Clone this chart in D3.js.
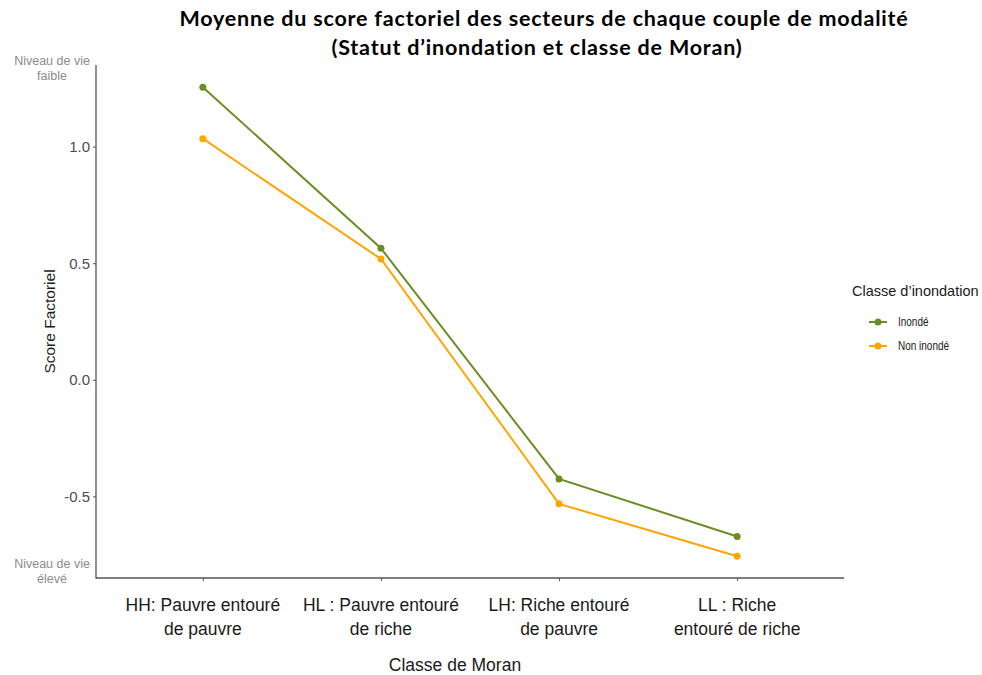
<!DOCTYPE html>
<html>
<head>
<meta charset="utf-8">
<script src="https://cdn.jsdelivr.net/npm/d3@7"></script>
<style>
  body { margin: 0; background: #fff; }
  svg { display: block; }
</style>
</head>
<body>
<svg id="chart" width="982" height="675"></svg>
<script>
// Moran classes (x categories), each label split over two lines
const categories = ["HH", "HL", "LH", "LL"];
const categoryLabels = [
  ["HH: Pauvre entouré", "de pauvre"],
  ["HL : Pauvre entouré", "de riche"],
  ["LH: Riche entouré", "de pauvre"],
  ["LL : Riche", "entouré de riche"]
];

// Mean factor score per flood status
const seriesNames = ["Inondé", "Non inondé"];
const inondeValues = [1.255, 0.564, -0.425, -0.672];
const nonInondeValues = [1.034, 0.518, -0.532, -0.757];
const seriesColors = ["#6b8e23", "#ffa500"];

const yTicks = [-0.5, 0.0, 0.5, 1.0];
const yDomain = [-0.85, 1.35];

const series = [
  { name: seriesNames[0], values: inondeValues, color: seriesColors[0] },
  { name: seriesNames[1], values: nonInondeValues, color: seriesColors[1] }
];

const svg = d3.select("#chart");
const plot = { left: 96, right: 844, top: 65, bottom: 578 };

const x = d3.scalePoint()
  .domain(categories)
  .range([plot.left, plot.right])
  .padding(0.6);

const y = d3.scaleLinear()
  .domain(yDomain)
  .range([plot.bottom, plot.top]);

const tickTextColor = "#4d4d4d";
const font = "'Liberation Sans', Arial, sans-serif";
// plain hyphen for negative values
const fmt = d => d3.format(".1f")(d).replace("−", "-");

// Y axis
const yAxis = svg.append("g")
  .attr("transform", `translate(${plot.left},0)`)
  .call(d3.axisLeft(y).tickValues(yTicks).tickFormat(fmt).tickSize(3).tickPadding(3));
yAxis.select(".domain").attr("d", `M0,${plot.top}V${plot.bottom + 0.5}`).attr("stroke", "#555").attr("stroke-width", 1.3);
yAxis.selectAll(".tick line").attr("stroke", "#555");
yAxis.selectAll(".tick text")
  .attr("fill", tickTextColor)
  .style("font-family", font)
  .style("font-size", "15px");

// X axis
const xAxis = svg.append("g")
  .attr("transform", `translate(0,${plot.bottom})`)
  .call(d3.axisBottom(x).tickSize(3).tickFormat(""));
xAxis.select(".domain").attr("d", `M${plot.left},0H${plot.right}`).attr("stroke", "#555").attr("stroke-width", 1.3);
xAxis.selectAll(".tick line").attr("stroke", "#555");

// Two-line category labels
const xl = svg.append("g");
categories.forEach((c, i) => {
  const t = xl.append("text")
    .attr("x", x(c))
    .attr("y", 611)
    .attr("text-anchor", "middle")
    .attr("fill", "#1a1a1a")
    .style("font-family", font)
    .style("font-size", "17.5px");
  categoryLabels[i].forEach((line, j) => {
    t.append("tspan").attr("x", x(c)).attr("dy", j === 0 ? 0 : 24).text(line);
  });
});

// Axis titles
svg.append("text")
  .attr("x", 455).attr("y", 671)
  .attr("text-anchor", "middle")
  .attr("fill", "#1a1a1a")
  .style("font-family", font).style("font-size", "17.5px")
  .text("Classe de Moran");

svg.append("text")
  .attr("transform", `translate(55,${(plot.top + plot.bottom) / 2}) rotate(-90)`)
  .attr("text-anchor", "middle")
  .attr("fill", "#1a1a1a")
  .style("font-family", font).style("font-size", "15.5px")
  .text("Score Factoriel");

// Living-standard annotations at the ends of the y axis
const annColor = "#8c8c8c";
const ann = [
  { lines: ["Niveau de vie", "faible"], y: 65 },
  { lines: ["Niveau de vie", "élevé"], y: 568 }
];
ann.forEach(a => {
  const t = svg.append("text")
    .attr("x", 52).attr("y", a.y)
    .attr("text-anchor", "middle")
    .attr("fill", annColor)
    .style("font-family", font).style("font-size", "12.5px");
  a.lines.forEach((l, j) => t.append("tspan").attr("x", 52).attr("dy", j === 0 ? 0 : 15).text(l));
});

// Lines and points
const line = d3.line()
  .x((d, i) => x(categories[i]))
  .y(d => y(d));

series.forEach(s => {
  svg.append("path")
    .datum(s.values)
    .attr("d", line)
    .attr("fill", "none")
    .attr("stroke", s.color)
    .attr("stroke-width", 2);
  svg.append("g").selectAll("circle")
    .data(s.values)
    .join("circle")
    .attr("cx", (d, i) => x(categories[i]))
    .attr("cy", d => y(d))
    .attr("r", 3.5)
    .attr("fill", s.color);
});

// Title
const titleFont = "Lato, 'Noto Sans', sans-serif";
[["Moyenne du score factoriel des secteurs de chaque couple de modalité", 544, 26],
 ["(Statut d’inondation et classe de Moran)", 537, 55]].forEach(([txt, tx, ty]) => {
  svg.append("text")
    .attr("x", tx).attr("y", ty)
    .attr("text-anchor", "middle")
    .attr("fill", "#000")
    .style("font-family", titleFont)
    .style("font-weight", "bold")
    .style("font-size", "21.5px")
    .style("letter-spacing", "0.8px")
    .text(txt);
});

// Legend
const legend = svg.append("g").attr("transform", "translate(852,0)");
legend.append("text")
  .attr("x", 0).attr("y", 296)
  .attr("fill", "#1a1a1a")
  .style("font-family", font).style("font-size", "14.5px")
  .text("Classe d’inondation");
series.forEach((s, i) => {
  const ly = 322 + i * 24;
  legend.append("line")
    .attr("x1", 17).attr("x2", 35).attr("y1", ly).attr("y2", ly)
    .attr("stroke", s.color).attr("stroke-width", 2);
  legend.append("circle").attr("cx", 26).attr("cy", ly).attr("r", 3.5).attr("fill", s.color);
  legend.append("text")
    .attr("x", 46).attr("y", ly + 4.5)
    .attr("fill", "#1a1a1a")
    .style("font-family", font).style("font-size", "12.5px")
    .attr("transform", `translate(46,0) scale(0.8,1) translate(-46,0)`)
    .text(s.name);
});
</script>
</body>
</html>
